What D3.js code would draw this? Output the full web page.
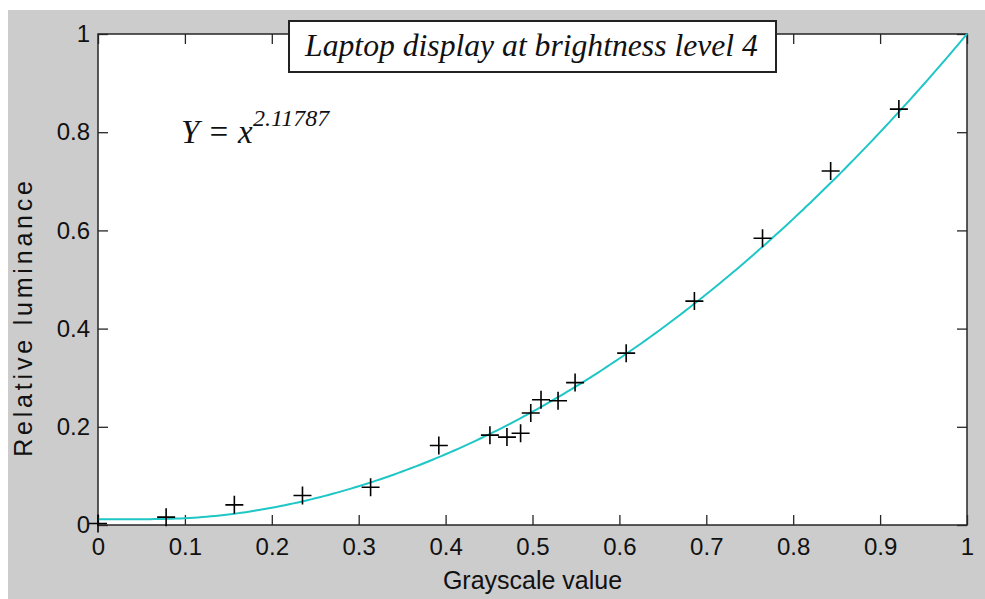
<!DOCTYPE html>
<html>
<head>
<meta charset="utf-8">
<script src="https://cdn.jsdelivr.net/npm/d3@7"></script>
<style>
  html, body { margin: 0; padding: 0; background: #ffffff; }
  svg { display: block; }
</style>
</head>
<body>
<svg id="chart" width="985" height="599"></svg>
<script>
// Measured gray levels (fraction of full scale) and their relative luminance
const grayscale = [0, 0.0784, 0.1569, 0.2353, 0.3137, 0.3922, 0.4510, 0.4706, 0.4863,
                   0.4980, 0.5098, 0.5294, 0.5490, 0.6078, 0.6863, 0.7647, 0.8431, 0.9216];
const luminance = [0.003, 0.016, 0.041, 0.060, 0.077, 0.162, 0.183, 0.179, 0.187,
                   0.228, 0.255, 0.253, 0.290, 0.350, 0.456, 0.584, 0.721, 0.847];

// Fitted power law Y = x^gamma, floored softly at the display's black level
const gammaExponent = 2.11787;
const blackLevel = 0.0116;
const fitSamples = d3.range(0, 1.0001, 0.005);

const xTicks = [0, 0.1, 0.2, 0.3, 0.4, 0.5, 0.6, 0.7, 0.8, 0.9, 1];
const yTicks = [0, 0.2, 0.4, 0.6, 0.8, 1];

const titleText = "Laptop display at brightness level 4";
const xLabel = "Grayscale value";
const yLabel = "Relative luminance";

const W = 985, H = 599;
const plot = { left: 98, right: 967, top: 34, bottom: 525 };

const svg = d3.select("#chart");

// figure background
svg.append("rect").attr("x", 8).attr("y", 10)
  .attr("width", W - 8).attr("height", H - 10)
  .attr("fill", "#cccccc");

// axes area
svg.append("rect")
  .attr("x", plot.left).attr("y", plot.top)
  .attr("width", plot.right - plot.left).attr("height", plot.bottom - plot.top)
  .attr("fill", "#ffffff");

const x = d3.scaleLinear().domain([0, 1]).range([plot.left, plot.right]);
const y = d3.scaleLinear().domain([0, 1]).range([plot.bottom, plot.top]);

const fmt = d => d3.format("")(+d.toFixed(1));
const axisColor = "#262626";
const tickFont = "'Liberation Sans', Arial, sans-serif";

function styleAxis(g) {
  g.select(".domain").remove();
  g.selectAll(".tick line").attr("stroke", axisColor).attr("stroke-width", 1.3);
  g.selectAll(".tick text").attr("fill", "#111111")
    .style("font-family", tickFont).style("font-size", "24px");
}

svg.append("g").attr("transform", `translate(0,${plot.bottom})`)
  .call(d3.axisBottom(x).tickValues(xTicks).tickFormat(fmt).tickSizeInner(-10).tickSizeOuter(0).tickPadding(13))
  .call(styleAxis);
svg.append("g").attr("transform", `translate(${plot.left},0)`)
  .call(d3.axisLeft(y).tickValues(yTicks).tickFormat(fmt).tickSizeInner(-10).tickSizeOuter(0).tickPadding(8))
  .call(styleAxis);
svg.append("g").attr("transform", `translate(0,${plot.top})`)
  .call(d3.axisTop(x).tickValues(xTicks).tickFormat("").tickSizeInner(-10).tickSizeOuter(0))
  .call(styleAxis);
svg.append("g").attr("transform", `translate(${plot.right},0)`)
  .call(d3.axisRight(y).tickValues(yTicks).tickFormat("").tickSizeInner(-10).tickSizeOuter(0))
  .call(styleAxis);

// axes frame
svg.append("rect")
  .attr("x", plot.left).attr("y", plot.top)
  .attr("width", plot.right - plot.left).attr("height", plot.bottom - plot.top)
  .attr("fill", "none").attr("stroke", axisColor).attr("stroke-width", 1.5);

// fitted curve
const fitLine = d3.line()
  .x(d => x(d))
  .y(d => y(Math.hypot(Math.pow(d, gammaExponent), blackLevel)));
svg.append("path").datum(fitSamples)
  .attr("d", fitLine)
  .attr("fill", "none").attr("stroke", "#1fc6c6").attr("stroke-width", 2);

// measured points as '+' markers
const arm = 9;
const points = grayscale.map((g, i) => ({ g, l: luminance[i] }));
svg.append("g").selectAll("path.pt").data(points).join("path")
  .attr("class", "pt")
  .attr("d", d => {
    const cx = x(d.g), cy = y(d.l);
    return `M${cx - arm},${cy}H${cx + arm}M${cx},${cy - arm}V${cy + arm}`;
  })
  .attr("fill", "none").attr("stroke", "#000").attr("stroke-width", 1.6);

// equation annotation
const serif = "'Liberation Serif', 'Times New Roman', serif";
const eq = svg.append("text").attr("x", 181).attr("y", 143)
  .style("font-family", serif).style("font-style", "italic").style("font-size", "33px")
  .attr("fill", "#111");
eq.append("tspan").text("Y = x");
eq.append("tspan").attr("x", 253).attr("y", 126).style("font-size", "24px").text(gammaExponent.toString());

// title box
const box = { x0: 289, x1: 776, y0: 21, y1: 72 };
svg.append("rect")
  .attr("x", box.x0).attr("y", box.y0)
  .attr("width", box.x1 - box.x0).attr("height", box.y1 - box.y0)
  .attr("fill", "#ffffff").attr("stroke", "#222").attr("stroke-width", 2);
const title = svg.append("text")
  .attr("x", (box.x0 + box.x1) / 2 - 1).attr("y", 56)
  .attr("text-anchor", "middle")
  .style("font-family", serif).style("font-style", "italic").style("font-size", "32px")
  .attr("fill", "#111").text(titleText);
const tw = title.node().getComputedTextLength();
title.style("font-size", (32 * 453 / tw).toFixed(2) + "px");

// axis labels
svg.append("text")
  .attr("x", (plot.left + plot.right) / 2).attr("y", 589)
  .attr("text-anchor", "middle")
  .style("font-family", tickFont).style("font-size", "25px")
  .attr("fill", "#111").text(xLabel);

svg.append("text")
  .attr("transform", `translate(32,317) rotate(-90)`)
  .attr("text-anchor", "middle")
  .style("font-family", tickFont).style("font-size", "25px")
  .style("letter-spacing", "3.8px")
  .attr("fill", "#111").text(yLabel);
</script>
</body>
</html>
